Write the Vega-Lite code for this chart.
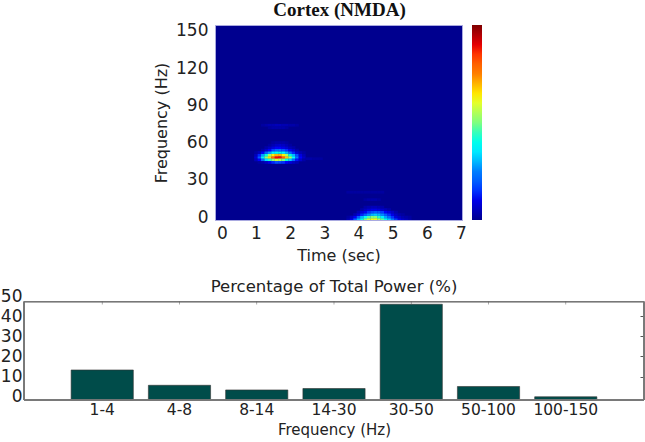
{"$schema":"https://vega.github.io/schema/vega-lite/v6.json","autosize":{"type":"pad"},"padding":0,"background":"white","spacing":14,"config":{"view":{"stroke":null},"axis":{"labelFont":"DejaVu Sans","titleFont":"DejaVu Sans","labelColor":"#222","titleColor":"#222","titleFontWeight":"normal","grid":false}},"vconcat":[{"spacing":0,"hconcat":[{"width":129,"height":195,"data":{"values":[]},"mark":{"type":"rule"},"encoding":{}},{"width":247,"height":195,"view":{"fill":"#00008f","stroke":"#a9a9e0"},"title":{"text":"Cortex (NMDA)","font":"Liberation Serif","fontSize":19,"fontWeight":"bold","color":"#111","offset":2,"dx":1},"data":{"values":[
{"t":1.0,"f":48,"v":0.08},{"t":1.1,"f":48,"v":0.2},{"t":1.2,"f":48,"v":0.36},{"t":1.3,"f":48,"v":0.52},{"t":1.4,"f":48,"v":0.66},{"t":1.5,"f":48,"v":0.78},{"t":1.6,"f":48,"v":0.88},{"t":1.7,"f":48,"v":0.88},{"t":1.8,"f":48,"v":0.8},{"t":1.9,"f":48,"v":0.68},{"t":2.0,"f":48,"v":0.54},{"t":2.1,"f":48,"v":0.38},{"t":2.2,"f":48,"v":0.24},{"t":2.3,"f":48,"v":0.12},{"t":2.4,"f":48,"v":0.06},
{"t":1.0,"f":50,"v":0.05},{"t":1.1,"f":50,"v":0.14},{"t":1.2,"f":50,"v":0.28},{"t":1.3,"f":50,"v":0.42},{"t":1.4,"f":50,"v":0.54},{"t":1.5,"f":50,"v":0.64},{"t":1.6,"f":50,"v":0.7},{"t":1.7,"f":50,"v":0.7},{"t":1.8,"f":50,"v":0.64},{"t":1.9,"f":50,"v":0.54},{"t":2.0,"f":50,"v":0.42},{"t":2.1,"f":50,"v":0.3},{"t":2.2,"f":50,"v":0.18},{"t":2.3,"f":50,"v":0.09},{"t":2.4,"f":50,"v":0.04},
{"t":1.0,"f":46,"v":0.05},{"t":1.1,"f":46,"v":0.12},{"t":1.2,"f":46,"v":0.22},{"t":1.3,"f":46,"v":0.34},{"t":1.4,"f":46,"v":0.44},{"t":1.5,"f":46,"v":0.52},{"t":1.6,"f":46,"v":0.58},{"t":1.7,"f":46,"v":0.56},{"t":1.8,"f":46,"v":0.5},{"t":1.9,"f":46,"v":0.42},{"t":2.0,"f":46,"v":0.32},{"t":2.1,"f":46,"v":0.22},{"t":2.2,"f":46,"v":0.13},{"t":2.3,"f":46,"v":0.07},{"t":2.4,"f":46,"v":0.03},
{"t":1.0,"f":52,"v":0.02},{"t":1.1,"f":52,"v":0.05},{"t":1.2,"f":52,"v":0.12},{"t":1.3,"f":52,"v":0.2},{"t":1.4,"f":52,"v":0.28},{"t":1.5,"f":52,"v":0.36},{"t":1.6,"f":52,"v":0.4},{"t":1.7,"f":52,"v":0.4},{"t":1.8,"f":52,"v":0.36},{"t":1.9,"f":52,"v":0.3},{"t":2.0,"f":52,"v":0.22},{"t":2.1,"f":52,"v":0.14},{"t":2.2,"f":52,"v":0.08},{"t":2.3,"f":52,"v":0.04},{"t":2.4,"f":52,"v":0.02},
{"t":1.1,"f":44,"v":0.02},{"t":1.2,"f":44,"v":0.03},{"t":1.3,"f":44,"v":0.06},{"t":1.4,"f":44,"v":0.1},{"t":1.5,"f":44,"v":0.14},{"t":1.6,"f":44,"v":0.18},{"t":1.7,"f":44,"v":0.17},{"t":1.8,"f":44,"v":0.15},{"t":1.9,"f":44,"v":0.12},{"t":2.0,"f":44,"v":0.09},{"t":2.1,"f":44,"v":0.06},{"t":2.2,"f":44,"v":0.04},
{"t":1.2,"f":54,"v":0.03},{"t":1.3,"f":54,"v":0.07},{"t":1.4,"f":54,"v":0.12},{"t":1.5,"f":54,"v":0.17},{"t":1.6,"f":54,"v":0.21},{"t":1.7,"f":54,"v":0.22},{"t":1.8,"f":54,"v":0.19},{"t":1.9,"f":54,"v":0.15},{"t":2.0,"f":54,"v":0.11},{"t":2.1,"f":54,"v":0.07},{"t":2.2,"f":54,"v":0.03},
{"t":1.3,"f":56,"v":0.03},{"t":1.4,"f":56,"v":0.06},{"t":1.5,"f":56,"v":0.09},{"t":1.6,"f":56,"v":0.12},{"t":1.7,"f":56,"v":0.12},{"t":1.8,"f":56,"v":0.1},{"t":1.9,"f":56,"v":0.08},{"t":2.0,"f":56,"v":0.05},{"t":2.1,"f":56,"v":0.03},
{"t":1.4,"f":58,"v":0.02},{"t":1.5,"f":58,"v":0.04},{"t":1.6,"f":58,"v":0.06},{"t":1.7,"f":58,"v":0.07},{"t":1.8,"f":58,"v":0.06},{"t":1.9,"f":58,"v":0.04},{"t":2.0,"f":58,"v":0.02},
{"t":1.5,"f":60,"v":0.02},{"t":1.6,"f":60,"v":0.03},{"t":1.7,"f":60,"v":0.03},{"t":1.8,"f":60,"v":0.03},{"t":1.9,"f":60,"v":0.02},
{"t":2.5,"f":47,"v":0.03},{"t":2.6,"f":47,"v":0.03},{"t":2.7,"f":47,"v":0.02},{"t":2.8,"f":47,"v":0.02},{"t":2.9,"f":47,"v":0.02},
{"t":1.2,"f":74,"v":0.02},{"t":1.3,"f":74,"v":0.03},{"t":1.4,"f":74,"v":0.04},{"t":1.5,"f":74,"v":0.04},{"t":1.6,"f":74,"v":0.05},{"t":1.7,"f":74,"v":0.05},{"t":1.8,"f":74,"v":0.04},{"t":1.9,"f":74,"v":0.04},{"t":2.0,"f":74,"v":0.03},{"t":2.1,"f":74,"v":0.03},{"t":2.2,"f":74,"v":0.02},
{"t":1.4,"f":72,"v":0.02},{"t":1.5,"f":72,"v":0.03},{"t":1.6,"f":72,"v":0.03},{"t":1.7,"f":72,"v":0.03},{"t":1.8,"f":72,"v":0.03},{"t":1.9,"f":72,"v":0.02},
{"t":3.7,"f":-2,"v":0.04},{"t":3.8,"f":-2,"v":0.1},{"t":3.9,"f":-2,"v":0.2},{"t":4.0,"f":-2,"v":0.3},{"t":4.1,"f":-2,"v":0.4},{"t":4.2,"f":-2,"v":0.5},{"t":4.3,"f":-2,"v":0.58},{"t":4.4,"f":-2,"v":0.62},{"t":4.5,"f":-2,"v":0.62},{"t":4.6,"f":-2,"v":0.56},{"t":4.7,"f":-2,"v":0.48},{"t":4.8,"f":-2,"v":0.4},{"t":4.9,"f":-2,"v":0.32},{"t":5.0,"f":-2,"v":0.24},{"t":5.1,"f":-2,"v":0.16},{"t":5.2,"f":-2,"v":0.1},{"t":5.3,"f":-2,"v":0.07},{"t":5.4,"f":-2,"v":0.05},{"t":5.5,"f":-2,"v":0.03},
{"t":3.7,"f":0,"v":0.02},{"t":3.8,"f":0,"v":0.06},{"t":3.9,"f":0,"v":0.12},{"t":4.0,"f":0,"v":0.2},{"t":4.1,"f":0,"v":0.3},{"t":4.2,"f":0,"v":0.38},{"t":4.3,"f":0,"v":0.46},{"t":4.4,"f":0,"v":0.5},{"t":4.5,"f":0,"v":0.5},{"t":4.6,"f":0,"v":0.44},{"t":4.7,"f":0,"v":0.36},{"t":4.8,"f":0,"v":0.28},{"t":4.9,"f":0,"v":0.22},{"t":5.0,"f":0,"v":0.15},{"t":5.1,"f":0,"v":0.09},{"t":5.2,"f":0,"v":0.06},{"t":5.3,"f":0,"v":0.04},{"t":5.4,"f":0,"v":0.03},{"t":5.5,"f":0,"v":0.02},
{"t":3.9,"f":2,"v":0.04},{"t":4.0,"f":2,"v":0.09},{"t":4.1,"f":2,"v":0.14},{"t":4.2,"f":2,"v":0.2},{"t":4.3,"f":2,"v":0.26},{"t":4.4,"f":2,"v":0.3},{"t":4.5,"f":2,"v":0.32},{"t":4.6,"f":2,"v":0.3},{"t":4.7,"f":2,"v":0.26},{"t":4.8,"f":2,"v":0.2},{"t":4.9,"f":2,"v":0.15},{"t":5.0,"f":2,"v":0.1},{"t":5.1,"f":2,"v":0.06},{"t":5.2,"f":2,"v":0.03},{"t":5.3,"f":2,"v":0.02},
{"t":4.0,"f":4,"v":0.04},{"t":4.1,"f":4,"v":0.08},{"t":4.2,"f":4,"v":0.11},{"t":4.3,"f":4,"v":0.15},{"t":4.4,"f":4,"v":0.18},{"t":4.5,"f":4,"v":0.2},{"t":4.6,"f":4,"v":0.19},{"t":4.7,"f":4,"v":0.16},{"t":4.8,"f":4,"v":0.12},{"t":4.9,"f":4,"v":0.09},{"t":5.0,"f":4,"v":0.06},{"t":5.1,"f":4,"v":0.03},
{"t":4.1,"f":6,"v":0.03},{"t":4.2,"f":6,"v":0.06},{"t":4.3,"f":6,"v":0.08},{"t":4.4,"f":6,"v":0.1},{"t":4.5,"f":6,"v":0.1},{"t":4.6,"f":6,"v":0.09},{"t":4.7,"f":6,"v":0.07},{"t":4.8,"f":6,"v":0.05},{"t":4.9,"f":6,"v":0.03},
{"t":4.2,"f":8,"v":0.03},{"t":4.3,"f":8,"v":0.04},{"t":4.4,"f":8,"v":0.05},{"t":4.5,"f":8,"v":0.05},{"t":4.6,"f":8,"v":0.04},{"t":4.7,"f":8,"v":0.03},
{"t":4.2,"f":14,"v":0.02},{"t":4.3,"f":14,"v":0.03},{"t":4.4,"f":14,"v":0.03},{"t":4.5,"f":14,"v":0.03},{"t":4.6,"f":14,"v":0.02},
{"t":3.7,"f":20,"v":0.02},{"t":3.9,"f":20,"v":0.02},{"t":4.1,"f":20,"v":0.02},{"t":4.3,"f":20,"v":0.02},{"t":4.5,"f":20,"v":0.02},{"t":4.7,"f":20,"v":0.02},{"t":3.8,"f":20,"v":0.02},{"t":4.0,"f":20,"v":0.02},{"t":4.2,"f":20,"v":0.02},{"t":4.4,"f":20,"v":0.02},{"t":4.6,"f":20,"v":0.02}
]},"mark":{"type":"rect","width":3.6,"height":2.7,"clip":true,"stroke":null},"encoding":{"x":{"field":"t","type":"quantitative","scale":{"domain":[-0.2,7.03],"nice":false,"zero":false},"axis":{"values":[0,1,2,3,4,5,6,7],"title":"Time (sec)","titleFontSize":16,"labelFontSize":17,"titlePadding":6,"ticks":false,"domain":false,"labelPadding":5,"labelFlush":false}},"y":{"field":"f","type":"quantitative","scale":{"domain":[-2.4,154.8],"nice":false,"zero":false},"axis":{"values":[0,30,60,90,120,150],"title":"Frequency (Hz)","titleFontSize":16,"labelFontSize":17,"ticks":false,"domain":false,"labelPadding":7,"titlePadding":6}},"color":{"field":"v","type":"quantitative","scale":{"domain":[0,1],"range":["#00008f","#0000ff","#007fff","#00ffff","#7fff7f","#ffff00","#ff7f00","#ff0000","#7f0000"]},"legend":{"orient":"none","legendX":448,"legendY":0,"title":null,"gradientLength":195,"gradientThickness":10,"labelOpacity":0,"labelFontSize":1,"tickCount":1}}}}]},{"width":620,"height":104,"title":{"text":"Percentage of Total Power (%)","font":"DejaVu Sans","fontSize":16.5,"fontWeight":"normal","color":"#222","offset":0,"dy":8},"data":{"values":[{"band":"1-4","pct":13.3},{"band":"4-8","pct":5.7},{"band":"8-14","pct":3.4},{"band":"14-30","pct":4.1},{"band":"30-50","pct":45.9},{"band":"50-100","pct":5.1},{"band":"100-150","pct":0}]},"resolve":{"axis":{"y":"independent"}},"layer":[{"mark":{"type":"bar","color":"#004c4a","stroke":"#333","strokeWidth":0.6},"encoding":{"x":{"field":"band","type":"nominal","sort":null,"scale":{"paddingInner":0.195,"paddingOuter":0.61},"axis":{"title":"Frequency (Hz)","titleFontSize":15,"labelFontSize":15.5,"labelAngle":0,"ticks":false,"domain":false,"labelPadding":2,"titlePadding":5}},"y":{"field":"pct","type":"quantitative","scale":{"domain":[-1.6,50],"nice":false,"zero":false},"axis":{"values":[0,10,20,30,40,50],"title":null,"labelFontSize":17,"ticks":false,"domain":false,"labelPadding":2}},"y2":{"datum":-1.6}}},{"mark":{"type":"rect","fill":null,"stroke":"#777","strokeWidth":0.8},"encoding":{"y":{"datum":47.2,"type":"quantitative","axis":{"orient":"right","values":[10,20,30,40],"labels":false,"title":null,"domain":false,"tickSize":-4,"tickColor":"#555"}},"y2":{"datum":-1.6}}},{"mark":{"type":"tick","orient":"vertical","color":"#555","size":3,"thickness":0.7},"encoding":{"x":{"field":"band","type":"nominal","sort":null},"y":{"datum":46.5,"type":"quantitative","axis":null}}}]}]}
